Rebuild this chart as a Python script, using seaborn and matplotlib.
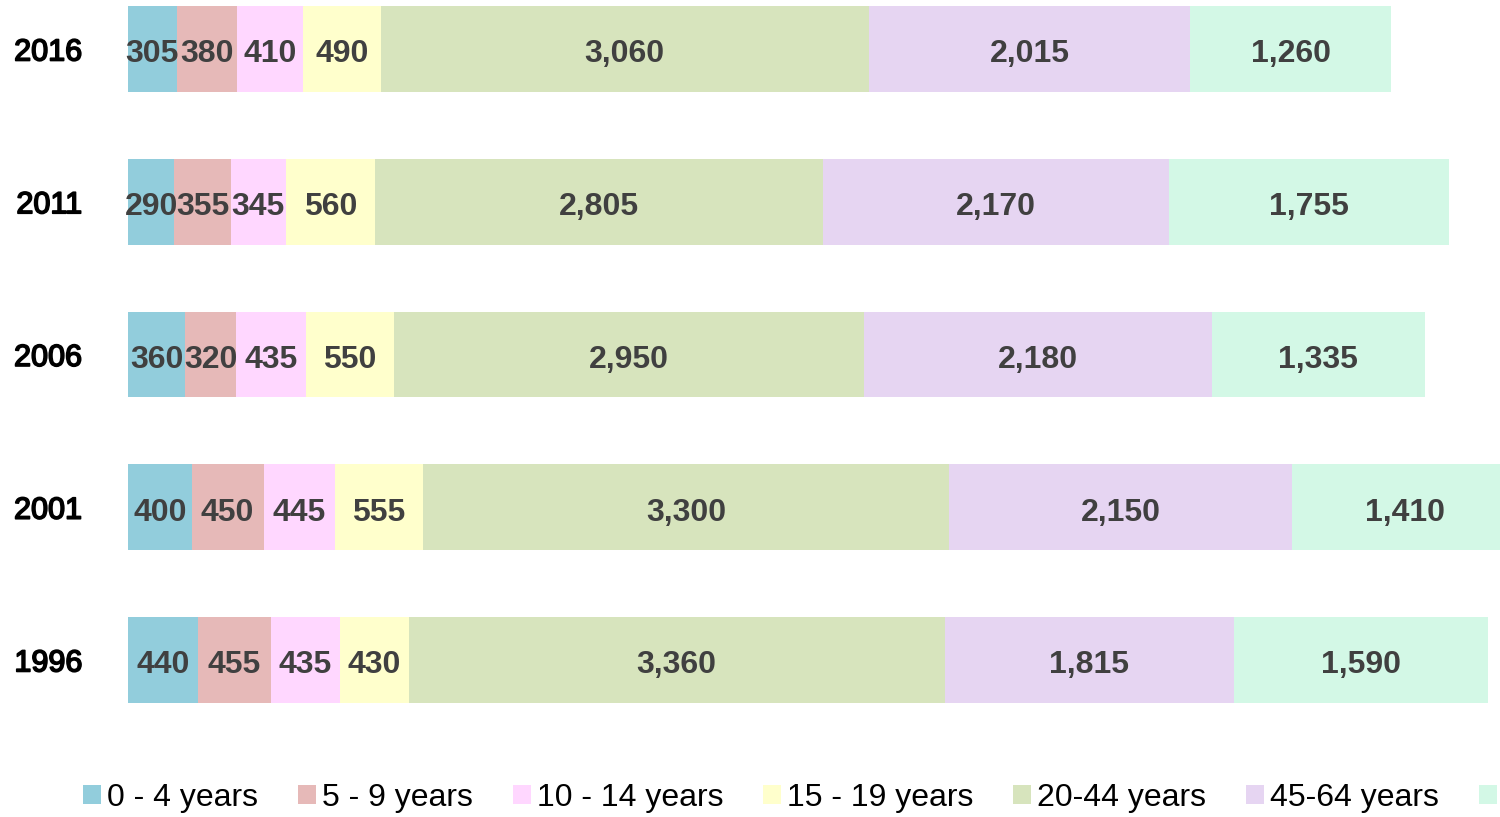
import pandas as pd
import matplotlib.pyplot as plt
import matplotlib.patheffects as pe
from matplotlib.patches import Patch
import seaborn as sns

# datos
years = ['2016', '2011', '2006', '2001', '1996']
groups = ['0 - 4 years', '5 - 9 years', '10 - 14 years', '15 - 19 years',
          '20-44 years', '45-64 years', '65+ years']
age_0_4 = [305, 290, 360, 400, 440]
age_5_9 = [380, 355, 320, 450, 455]
age_10_14 = [410, 345, 435, 445, 435]
age_15_19 = [490, 560, 550, 555, 430]
age_20_44 = [3060, 2805, 2950, 3300, 3360]
age_45_64 = [2015, 2170, 2180, 2150, 1815]
age_65 = [1260, 1755, 1335, 1410, 1590]
colors = ['#92CDDC', '#E6B9B8', '#FFD7FF', '#FFFFCC', '#D7E4BD', '#E6D5F2', '#D3F8E6']

df = pd.DataFrame({'year': years}, dtype=str)
series = [age_0_4, age_5_9, age_10_14, age_15_19, age_20_44, age_45_64, age_65]
for g, s in zip(groups, series):
    df[g] = s

# sumas acumuladas para apilar
cum = df[groups].cumsum(axis=1)

sns.set_style("white")
plt.rcParams['font.family'] = ['Liberation Sans', 'DejaVu Sans']

fig = plt.figure(figsize=(15, 8.17), dpi=100)
ax = fig.add_axes([128 / 1500, 1 - 740 / 817, 1 - 128 / 1500, 740 / 817])

# dibujamos de la mayor suma a la menor, cada barra tapa a la anterior
for i in range(len(groups) - 1, -1, -1):
    sns.barplot(x=cum[groups[i]], y=df['year'], color=colors[i], orient='h',
                width=0.563, saturation=1, ax=ax, linewidth=0)

# etiquetas de valores
for r in range(len(years)):
    left = 0
    for g in groups:
        v = df.loc[r, g]
        ax.text(left + v / 2, r + 0.035, f'{v:,}', ha='center', va='center',
                fontsize=23, fontweight='bold', color='#404040')
        left += v

ax.set_xlim(0, 8602)
ax.set_ylim(4.524, -0.321)
ax.set_xlabel('')
ax.set_ylabel('')
ax.set_xticks([])
sns.despine(ax=ax, left=True, bottom=True)
ax.tick_params(axis='y', length=0, pad=33, labelsize=22, labelcolor='black')
for lab in ax.get_yticklabels():
    lab.set_path_effects([pe.withStroke(linewidth=1.2, foreground='black')])

# leyenda abajo, la ultima entrada queda cortada por el borde como en el original
handles = [Patch(facecolor=c, edgecolor='none', label=g) for c, g in zip(colors, groups)]
leg = fig.legend(handles=handles, loc='center left', bbox_to_anchor=(83 / 1500, 1 - 798 / 817),
                 bbox_transform=fig.transFigure, ncol=7, frameon=False, fontsize=23,
                 handlelength=0.56, handleheight=0.56, handletextpad=0.19,
                 columnspacing=1.25, borderpad=0, borderaxespad=0)
for t in leg.get_texts():
    t.set_color('black')

fig.savefig('out.png', dpi=100)
